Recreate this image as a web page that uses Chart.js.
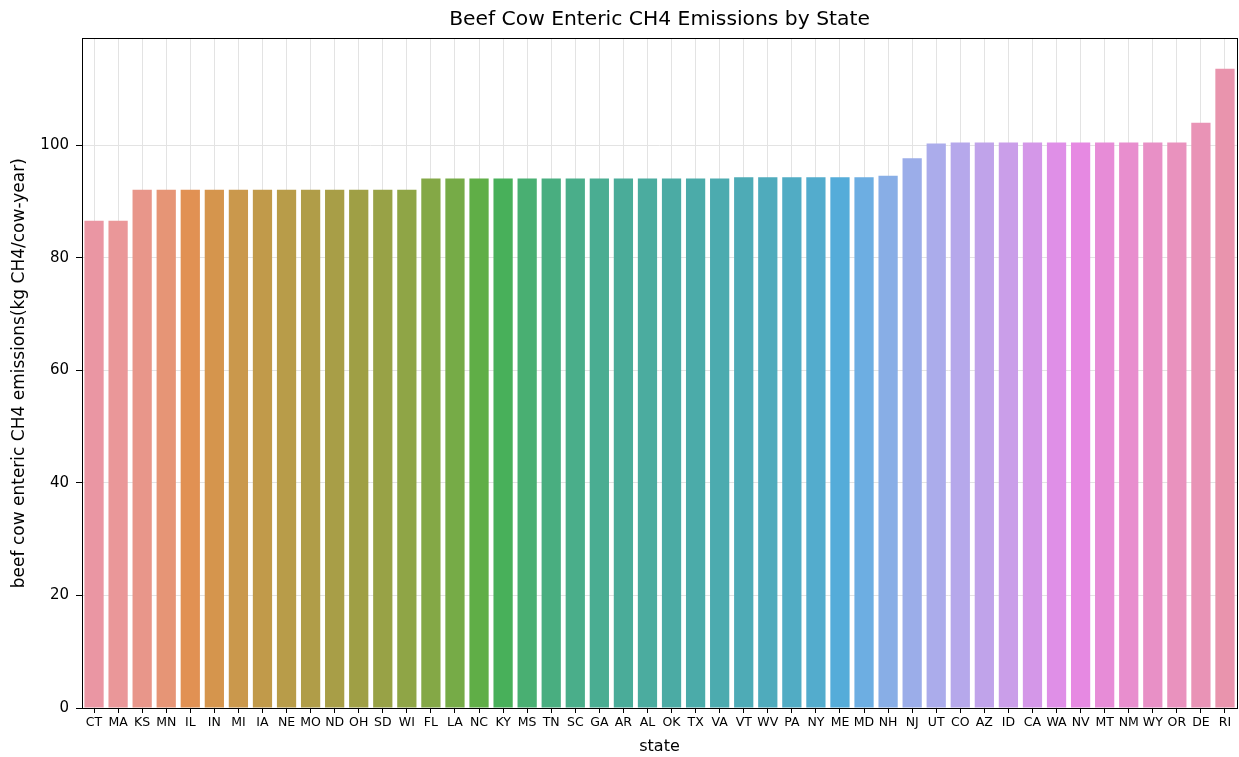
<!DOCTYPE html>
<html><head><meta charset="utf-8">
<script src="https://cdn.jsdelivr.net/npm/chart.js@4"></script>
<style>html,body{margin:0;padding:0;background:#fff}#wrap{width:1239px;height:757px}</style>
</head><body><div id="wrap"><canvas id="c" width="1239" height="757"></canvas></div>
<script>
const states = ["CT","MA","KS","MN","IL","IN","MI","IA","NE","MO","ND","OH","SD","WI","FL","LA","NC","KY","MS","TN","SC","GA","AR","AL","OK","TX","VA","VT","WV","PA","NY","ME","MD","NH","NJ","UT","CO","AZ","ID","CA","WA","NV","MT","NM","WY","OR","DE","RI"];
const emissions = [86.6,86.6,92.1,92.1,92.1,92.1,92.1,92.1,92.1,92.1,92.1,92.1,92.1,92.1,94.1,94.1,94.1,94.1,94.1,94.1,94.1,94.1,94.1,94.1,94.1,94.1,94.1,94.3,94.3,94.3,94.3,94.3,94.3,94.6,97.7,100.3,100.5,100.5,100.5,100.5,100.5,100.5,100.5,100.5,100.5,100.5,104.0,113.6];
const yTicks = [0,20,40,60,80,100];

// seaborn-like husl palette (styling only)
const M=[[3.2406,-1.5372,-0.4986],[-0.9689,1.8758,0.0415],[0.0557,-0.2040,1.0570]];
function maxChroma(L,H){const hr=H*Math.PI/180,s=Math.sin(hr),c=Math.cos(hr);let sub1=Math.pow(L+16,3)/1560896,sub2=sub1>0.008856?sub1:L/903.3;let res=Infinity;
for(const [m1,m2,m3] of M){const top=(0.99915*m1+1.05122*m2+1.14460*m3)*sub2;const rb=0.86330*m3-0.17266*m2;const lb=0.12949*m3-0.38848*m1;const bottom=(rb*s+lb*c)*sub2;
for(const t of [0,1]){const C=L*(top-1.05122*t)/(bottom+0.17266*s*t);if(C>0&&C<res)res=C;}}return res;}
function fromLin(c){return c<=0.0031308?12.92*c:1.055*Math.pow(c,1/2.4)-0.055;}
function husl2rgb(H,S,L){const C=maxChroma(L,H)/100*S;const hr=H*Math.PI/180;const U=Math.cos(hr)*C,V=Math.sin(hr)*C;
const t=(L+16)/116;const vY=t*t*t>0.008856?t*t*t:(116*t-16)/903.3;const vU=U/(13*L)+0.19784,vV=V/(13*L)+0.46834;const Y=vY;const X=-(9*Y*vU)/((vU-4)*vV-vU*vV);const Z=(9*Y-15*vV*Y-vV*X)/(3*vV);
return M.map(r=>Math.min(1,Math.max(0,fromLin(r[0]*X+r[1]*Y+r[2]*Z))));}
function rgb2hls(r,g,b){const mx=Math.max(r,g,b),mn=Math.min(r,g,b);const l=(mx+mn)/2;if(mx===mn)return[0,l,0];const d=mx-mn;const s=l<=0.5?d/(mx+mn):d/(2-mx-mn);
const rc=(mx-r)/d,gc=(mx-g)/d,bc=(mx-b)/d;let h=r===mx?bc-gc:(g===mx?2+rc-bc:4+gc-rc);h=(h/6)%1;if(h<0)h+=1;return[h,l,s];}
function v(m1,m2,h){h=((h%1)+1)%1;if(h<1/6)return m1+(m2-m1)*h*6;if(h<0.5)return m2;if(h<2/3)return m1+(m2-m1)*(2/3-h)*6;return m1;}
function hls2rgb(h,l,s){if(s===0)return[l,l,l];const m2=l<=0.5?l*(1+s):l+s-l*s;const m1=2*l-m2;return[v(m1,m2,h+1/3),v(m1,m2,h),v(m1,m2,h-1/3)];}
function palette(n){const out=[];for(let i=0;i<n;i++){let h=(i/n+0.01)%1;const rgb=husl2rgb(h*359,0.9*99,0.7*99);const [hh,l,s]=rgb2hls(...rgb);const d=hls2rgb(hh,l,s*0.75);
out.push('rgb('+d.map(x=>Math.round(x*255)).join(',')+')');}return out;}
const colors = palette(states.length);

const frame={id:'frame',afterDraw(ch){const a=ch.chartArea,c=ch.ctx;c.save();c.strokeStyle='#000';c.lineWidth=1;c.strokeRect(Math.round(a.left)+0.5,Math.round(a.top)+0.5,Math.round(a.right-a.left),Math.round(a.bottom-a.top));c.restore();}};

new Chart(document.getElementById('c'),{
 type:'bar',
 data:{labels:states,datasets:[{data:emissions,backgroundColor:colors,borderWidth:0,barPercentage:0.8,categoryPercentage:1}]},
 options:{responsive:false,animation:false,
  layout:{padding:{left:0,right:2,top:0,bottom:0}},
  plugins:{legend:{display:false},tooltip:{enabled:false},
   title:{display:true,fullSize:false,text:'Beef Cow Enteric CH4 Emissions by State',color:'#000',font:{family:'DejaVu Sans',size:20.3,weight:'normal'},padding:{top:8,bottom:6},lineHeight:1.2}},
  scales:{
   x:{grid:{offset:false,color:'#e3e3e3',tickColor:'#000',tickLength:5,drawTicks:true},border:{display:false},
    ticks:{color:'#000',font:{family:'DejaVu Sans',size:12.5},maxRotation:0,autoSkip:false,padding:2},
    title:{display:true,text:'state',color:'#000',font:{family:'DejaVu Sans',size:16},padding:{top:0,bottom:1}},
    afterFit(s){s.height=49;}},
   y:{min:0,max:119.0,grid:{color:'#e3e3e3',tickColor:'#000',tickLength:6},border:{display:false},
    afterBuildTicks(s){s.ticks=yTicks.map(v=>({value:v}));},
    ticks:{color:'#000',font:{family:'DejaVu Sans',size:15},padding:7},
    title:{display:true,text:'beef cow enteric CH4 emissions(kg CH4/cow-year)',color:'#000',font:{family:'DejaVu Sans',size:17},padding:{top:9,bottom:4}},
    afterFit(s){s.width=82;}}
  }},
 plugins:[frame]
});
</script></body></html>
